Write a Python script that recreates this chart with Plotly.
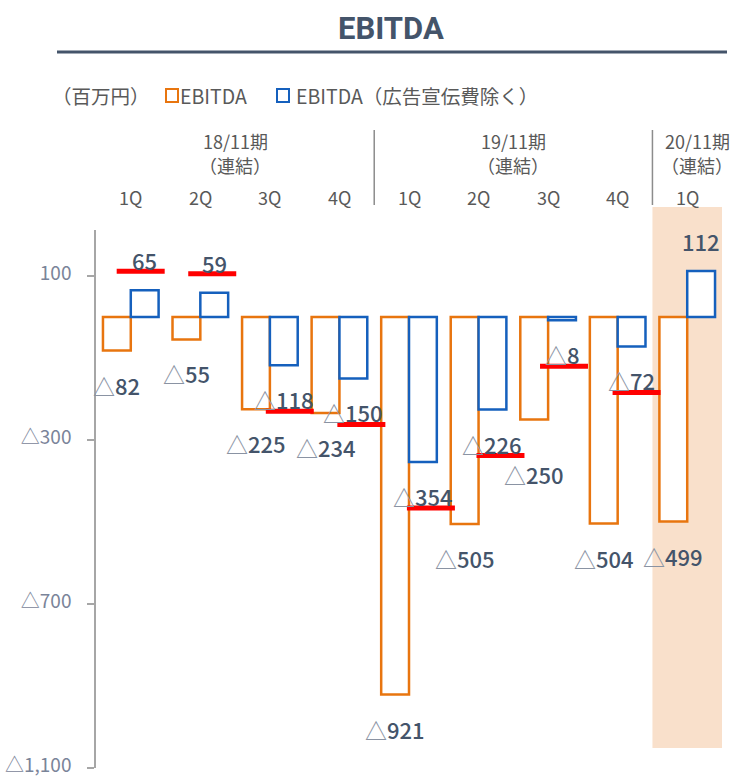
import plotly.graph_objects as go

# ---------------- data ----------------
title_text = "EBITDA"
unit_label = "（百万円）"
series_names = ["EBITDA", "EBITDA（広告宣伝費除く）"]
periods = ["18/11期", "19/11期", "20/11期"]
period_note = "（連結）"
quarters = ["1Q", "2Q", "3Q", "4Q", "1Q", "2Q", "3Q", "4Q", "1Q"]
quarter_period = [0, 0, 0, 0, 1, 1, 1, 1, 2]
ebitda = [-82, -55, -225, -234, -921, -505, -250, -504, -499]
ebitda_ex_ad = [65, 59, -118, -150, -354, -226, -8, -72, 112]
underlined_ex_ad = [True, True, True, True, True, True, True, True, False]
y_tick_values = [100, -300, -700, -1100]
y_tick_labels = ["100", "△300", "△700", "△1,100"]
highlight_period = 2

# ---------------- style ----------------
W, H = 739, 777
PL, PR, PT, PB = 96, 722, 230, 768
ORANGE = "#E8750F"
BLUE = "#1560BD"
DARK = "#44546A"
TRI = "#8A93A3"
GRAY_TXT = "#595959"
AXIS_TXT = "#7A8499"
SHADE = "#F9E0CB"
FONT = "Noto Sans CJK JP, Noto Sans, sans-serif"

def px_x(px):
    return (px - PL) / (PR - PL)

def px_y(py):
    return (PB - py) / (PB - PT)

def fmt(v):
    if v < 0:
        return f'<span style="color:{TRI}">△</span>{abs(v):,}'
    return f"{v:,}"

x = list(range(len(quarters)))

fig = go.Figure()
fig.add_trace(go.Bar(x=x, y=ebitda, name=series_names[0],
                     marker=dict(color="white", line=dict(color=ORANGE, width=2.5))))
fig.add_trace(go.Bar(x=x, y=ebitda_ex_ad, name=series_names[1],
                     marker=dict(color="white", line=dict(color=BLUE, width=2.5))))

annotations = []
shapes = []

# value labels
label_font = dict(family=FONT, size=22, color=DARK, weight=500)
extra_shift_orange = {6: -21}
for i, v in enumerate(ebitda):
    ys = 30 if v > 0 else -34
    ys += extra_shift_orange.get(i, 0)
    annotations.append(dict(x=i - 0.2, y=v, xref="x", yref="y", text=fmt(v),
                            showarrow=False, yshift=ys, yanchor="middle", font=label_font))
red_dx = [-4, -2, 6, 8, 8, 8, 2, 5, 0]
for i, v in enumerate(ebitda_ex_ad):
    ys = 30 if v > 0 else -34
    annotations.append(dict(x=i + 0.2, y=v, xref="x", yref="y", text=fmt(v),
                            showarrow=False, yshift=ys, yanchor="middle", font=label_font))
    if underlined_ex_ad[i]:
        ly = -46 if v < 0 else 19
        shapes.append(dict(type="line", xref="x", yref="y",
                           xsizemode="pixel", xanchor=i + 0.2,
                           x0=red_dx[i] - 24, x1=red_dx[i] + 24,
                           ysizemode="pixel", yanchor=v, y0=ly, y1=ly,
                           line=dict(color="#FF0000", width=5)))

# highlight shading for the last period
hl = [i for i, p in enumerate(quarter_period) if p == highlight_period]
shapes.append(dict(type="rect", xref="x", yref="paper", x0=min(hl) - 0.5, x1=max(hl) + 0.5,
                   y0=px_y(748), y1=px_y(207), fillcolor=SHADE, line=dict(width=0),
                   layer="below"))

# header: quarters, periods, separators
hdr_font = dict(family=FONT, size=18, color=GRAY_TXT)
for i, q in enumerate(quarters):
    annotations.append(dict(x=i, y=1, xref="x", yref="paper", text=q, showarrow=False,
                            yshift=PT - 197, yanchor="middle", font=hdr_font))
for p, name in enumerate(periods):
    idx = [i for i, pp in enumerate(quarter_period) if pp == p]
    cx = sum(idx) / len(idx)
    dx = 10 if len(idx) == 1 else 0
    annotations.append(dict(x=cx, y=1, xref="x", yref="paper", text=name, showarrow=False,
                            yshift=PT - 141, xshift=dx, yanchor="middle", font=hdr_font))
    annotations.append(dict(x=cx, y=1, xref="x", yref="paper", text=period_note, showarrow=False,
                            yshift=PT - 165, xshift=dx, yanchor="middle", font=hdr_font))
    if p > 0:
        shapes.append(dict(type="line", xref="x", yref="paper", x0=min(idx) - 0.5, x1=min(idx) - 0.5,
                           y0=px_y(205), y1=px_y(130), line=dict(color="#8C8C8C", width=1.5)))

# title and underline
annotations.append(dict(x=px_x(391), y=1, xref="paper", yref="paper", text=f"<b>{title_text}</b>",
                        showarrow=False, yshift=PT - 28, yanchor="middle",
                        font=dict(family="Roboto, sans-serif", size=31, color=DARK)))
shapes.append(dict(type="line", xref="paper", yref="paper", x0=px_x(57), x1=px_x(727),
                   y0=px_y(52), y1=px_y(52), line=dict(color=DARK, width=3)))

# legend row
leg_font = dict(family=FONT, size=19.5, color=GRAY_TXT)
annotations.append(dict(x=px_x(50), y=1, xref="paper", yref="paper", text=unit_label,
                        showarrow=False, xanchor="left", yanchor="middle", yshift=PT - 95, font=leg_font))
annotations.append(dict(x=px_x(178), y=1, xref="paper", yref="paper", text=series_names[0],
                        showarrow=False, xanchor="left", yanchor="middle", yshift=PT - 95, font=leg_font))
annotations.append(dict(x=px_x(294), y=1, xref="paper", yref="paper", text=series_names[1],
                        showarrow=False, xanchor="left", yanchor="middle", yshift=PT - 95, font=leg_font))
for x0, col in [(166, ORANGE), (277, BLUE)]:
    shapes.append(dict(type="rect", xref="paper", yref="paper", x0=px_x(x0), x1=px_x(x0 + 12),
                       y0=px_y(102), y1=px_y(89), line=dict(color=col, width=2),
                       fillcolor="rgba(0,0,0,0)"))

fig.update_layout(
    width=W, height=H,
    margin=dict(l=PL, r=W - PR, t=PT, b=H - PB, pad=0, autoexpand=False),
    paper_bgcolor="white", plot_bgcolor="white",
    barmode="group", bargap=0.2, bargroupgap=0,
    showlegend=False,
    xaxis=dict(range=[-0.5, len(quarters) - 0.5], visible=False, fixedrange=True,
               automargin=False),
    yaxis=dict(range=[-1100, 212], tickvals=y_tick_values, ticktext=y_tick_labels,
               ticks="outside", ticklen=7, tickcolor="#A6A6A6", tickwidth=1.5,
               showline=True, linecolor="#A6A6A6", linewidth=1.5,
               showgrid=False, zeroline=False, ticklabelstandoff=12,
               ticklabelshift=-3,
               ticklabeloverflow="allow", fixedrange=True, automargin=False,
               tickfont=dict(family=FONT, size=19, color=AXIS_TXT)),
    annotations=annotations,
    shapes=shapes,
)

fig.write_html("out.html", config={"displayModeBar": False},
               post_script="document.body.style.margin='0';")
